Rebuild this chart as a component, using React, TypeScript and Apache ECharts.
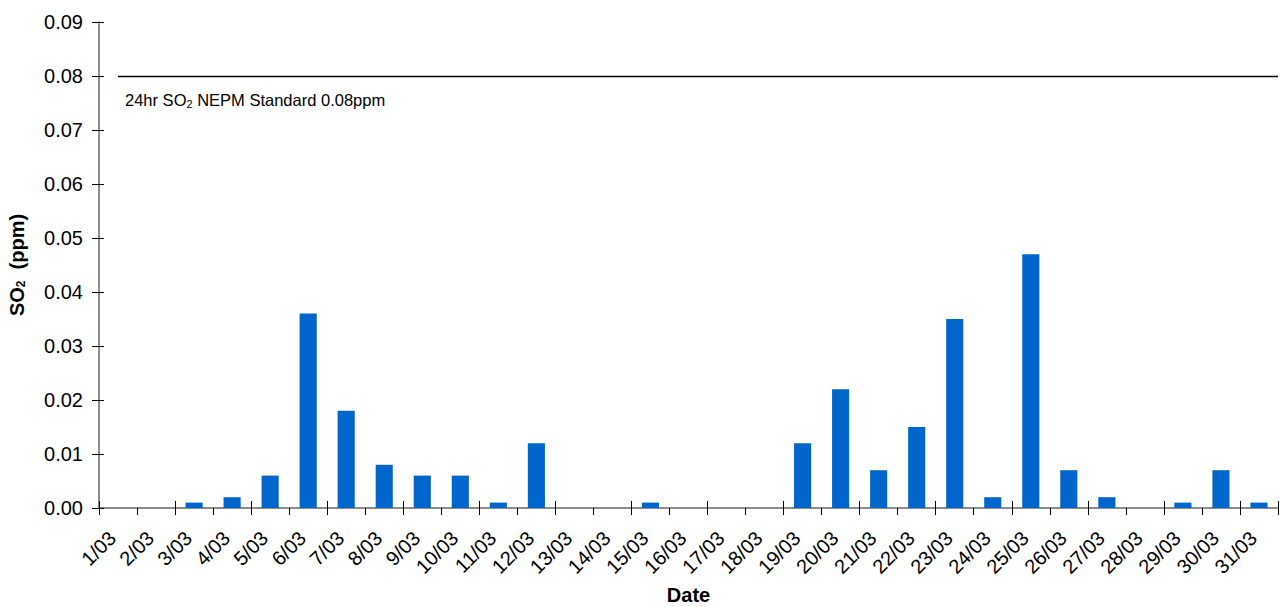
import React, { useEffect, useRef } from "react";
import * as echarts from "echarts";

const categories: string[] = [
  "1/03", "2/03", "3/03", "4/03", "5/03", "6/03", "7/03", "8/03", "9/03", "10/03",
  "11/03", "12/03", "13/03", "14/03", "15/03", "16/03", "17/03", "18/03", "19/03", "20/03",
  "21/03", "22/03", "23/03", "24/03", "25/03", "26/03", "27/03", "28/03", "29/03", "30/03", "31/03",
];

const so2Values: number[] = [
  0, 0, 0.001, 0.002, 0.006, 0.036, 0.018, 0.008, 0.006, 0.006,
  0.001, 0.012, 0, 0, 0.001, 0, 0, 0, 0.012, 0.022,
  0.007, 0.015, 0.035, 0.002, 0.047, 0.007, 0.002, 0, 0.001, 0.007, 0.001,
];

const standardValue = 0.08;
const yMin = 0;
const yMax = 0.09;
const yInterval = 0.01;

const FONT = "'Liberation Sans', Arial, sans-serif";

export default function App() {
  const ref = useRef<HTMLDivElement>(null);

  useEffect(() => {
    document.body.style.margin = "0";
    if (!ref.current) return;
    const chart = echarts.init(ref.current, null, { renderer: "svg" });

    chart.setOption({
      animation: false,
      backgroundColor: "#fff",
      textStyle: { fontFamily: FONT },
      grid: { left: 99, right: 2, top: 22, bottom: 99, containLabel: false, outerBoundsMode: "none" },
      xAxis: [
        {
          type: "category",
          data: categories,
          name: "Date",
          nameLocation: "middle",
          nameGap: 77,
          nameTextStyle: { fontFamily: FONT, fontSize: 20, lineHeight: 20, fontWeight: "bold", color: "#000" },
          axisLine: { show: true, lineStyle: { color: "#666", width: 1.5 } },
          axisTick: { show: true, inside: false, length: 7, alignWithLabel: false, lineStyle: { color: "#000" } },
          axisLabel: {
            color: "#000",
            fontFamily: FONT,
            fontSize: 20,
            rotate: 45,
            interval: 0,
            margin: 21,
            padding: [0, 8, 0, 0],
          },
          splitLine: { show: false },
        },
        {
          type: "category",
          data: categories,
          position: "bottom",
          axisLine: { show: false },
          axisTick: { show: true, inside: true, length: 7, lineStyle: { color: "#000" } },
          axisLabel: { show: false },
          splitLine: { show: false },
        },
      ],
      yAxis: [
        {
          type: "value",
          min: yMin,
          max: yMax,
          interval: yInterval,
          name: "SO{s|2}  (ppm)",
          nameLocation: "middle",
          nameGap: 72,
          nameRotate: 90,
          nameTextStyle: {
            fontFamily: FONT,
            fontSize: 20,
            fontWeight: "bold",
            color: "#000",
            rich: {
              s: { fontFamily: FONT, fontSize: 12, fontWeight: "bold", color: "#000", padding: [8, 0, 0, 0] },
            },
          },
          axisLine: { show: true, lineStyle: { color: "#666", width: 1.5 } },
          axisTick: { show: true, inside: false, length: 7, lineStyle: { color: "#000" } },
          axisLabel: { color: "#000", fontFamily: FONT, fontSize: 20, margin: 16, formatter: (v: number) => v.toFixed(2) },
          splitLine: { show: false },
        },
        {
          type: "value",
          min: yMin,
          max: yMax,
          interval: yInterval,
          position: "left",
          axisLine: { show: false },
          axisTick: { show: true, inside: true, length: 5, lineStyle: { color: "#000" } },
          axisLabel: { show: false },
          splitLine: { show: false },
        },
      ],
      series: [
        {
          type: "bar",
          name: "SO2",
          xAxisIndex: 0,
          yAxisIndex: 0,
          data: so2Values,
          barWidth: "45%",
          itemStyle: { color: "#0066CC" },
          markLine: {
            silent: true,
            symbol: ["none", "none"],
            lineStyle: { color: "#000", width: 1.3, type: "solid" },
            label: {
              show: true,
              position: "insideStartBottom",
              distance: [7, 14],
              formatter: "24hr SO{s|2} NEPM Standard 0.08ppm",
              color: "#000",
              fontFamily: FONT,
              fontSize: 16.5,
              rich: {
                s: { fontFamily: FONT, fontSize: 11, color: "#000", padding: [8, 0, 0, 0] },
              },
            },
            data: [
              [
                { coord: [categories[0], standardValue] },
                { coord: [categories[categories.length - 1], standardValue], x: 1278 },
              ],
            ],
          },
        },
      ],
    });

    return () => chart.dispose();
  }, []);

  return <div ref={ref} style={{ width: 1280, height: 607 }} />;
}
